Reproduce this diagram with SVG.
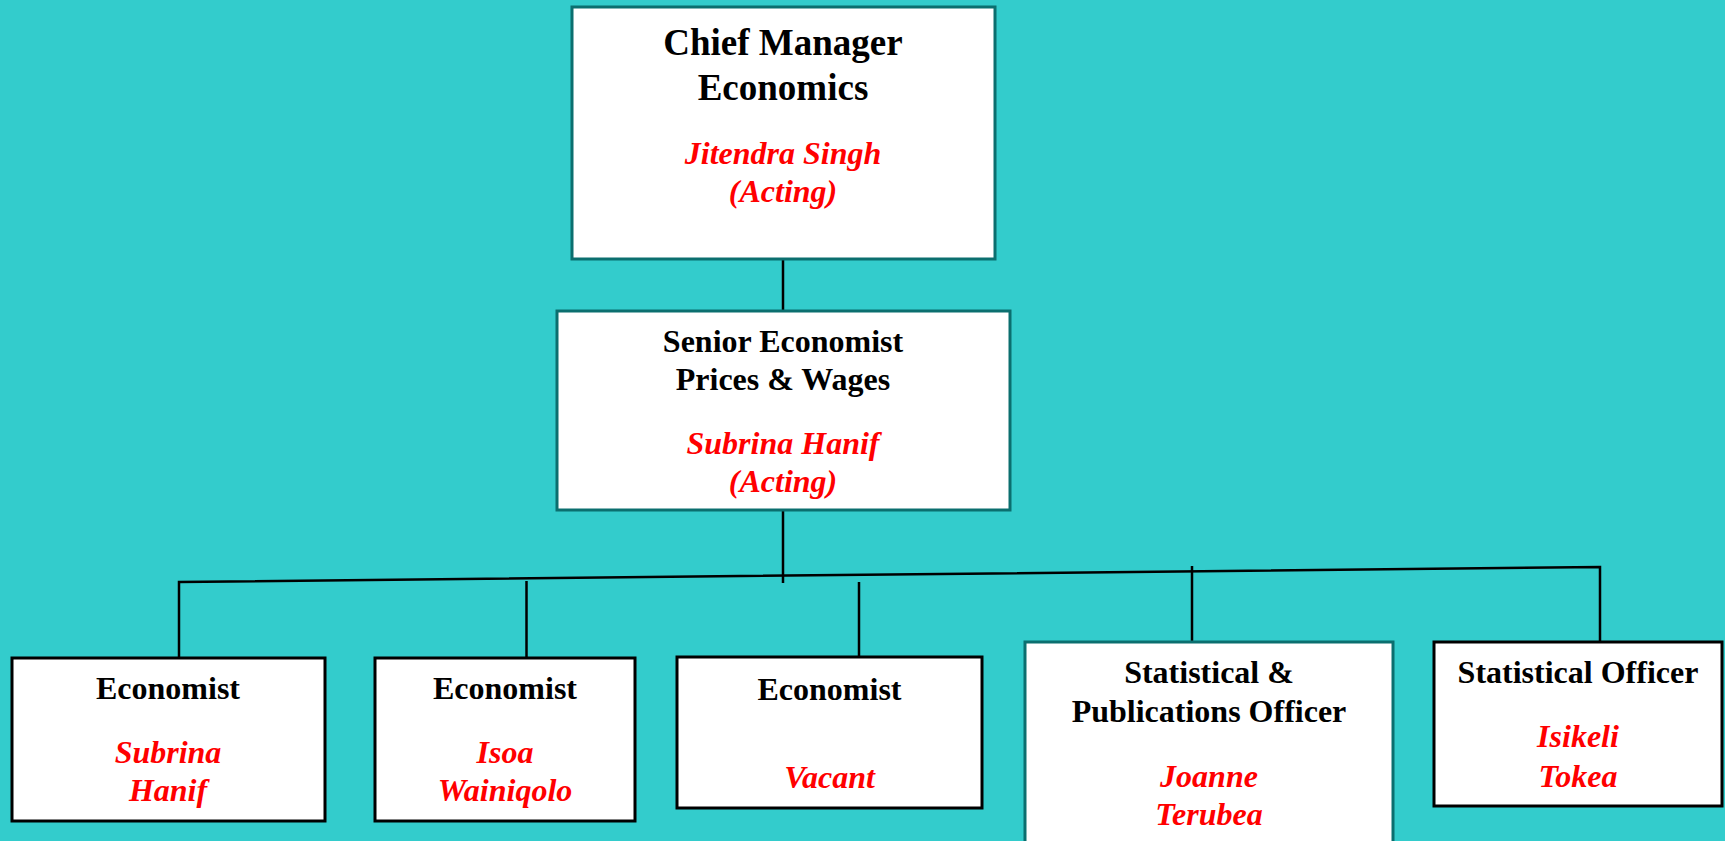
<svg xmlns="http://www.w3.org/2000/svg" width="1725" height="841" viewBox="0 0 1725 841">
<style>
.bg{fill:#33CCCC}
.box{fill:#ffffff;stroke:#0b6f6f;stroke-width:3}
.boxk{fill:#ffffff;stroke:#000000;stroke-width:3}
.conn{stroke:#000000;stroke-width:2.5;fill:none;stroke-linecap:butt}
.t{font-family:"Liberation Serif","Times New Roman",serif;font-weight:bold;fill:#000000;text-anchor:middle;font-size:32px}
.tl{font-size:37px}
.n{font-family:"Liberation Serif","Times New Roman",serif;font-weight:bold;font-style:italic;fill:#ff0000;text-anchor:middle;font-size:32px}
</style>
<rect class="bg" x="0" y="0" width="1725" height="841"/>
<g id="connectors">
<line class="conn" x1="783" y1="259" x2="783" y2="311"/>
<line class="conn" x1="783" y1="510" x2="783" y2="583"/>
<polyline class="conn" points="179,663 179,582 1600,567 1600,648"/>
<line class="conn" x1="526.5" y1="581" x2="526.5" y2="663"/>
<line class="conn" x1="859" y1="582" x2="859" y2="658"/>
<line class="conn" x1="1192" y1="566" x2="1192" y2="648"/>
</g>
<g id="chief-manager">
<rect class="box" x="572" y="7" width="423" height="252"/>
<text class="t tl" x="783" y="55">Chief Manager</text>
<text class="t tl" x="783" y="100">Economics</text>
<text class="n" x="783" y="164">Jitendra Singh</text>
<text class="n" x="783" y="202">(Acting)</text>
</g>
<g id="senior-economist">
<rect class="box" x="557" y="311" width="453" height="199"/>
<text class="t" x="783" y="352">Senior Economist</text>
<text class="t" x="783" y="390">Prices &amp; Wages</text>
<text class="n" x="783" y="454">Subrina Hanif</text>
<text class="n" x="783" y="492">(Acting)</text>
</g>
<g id="economist-1">
<rect class="boxk" x="12" y="658" width="313" height="163"/>
<text class="t" x="168" y="699">Economist</text>
<text class="n" x="168" y="763">Subrina</text>
<text class="n" x="168" y="801">Hanif</text>
</g>
<g id="economist-2">
<rect class="boxk" x="375" y="658" width="260" height="163"/>
<text class="t" x="505" y="699">Economist</text>
<text class="n" x="505" y="763">Isoa</text>
<text class="n" x="505" y="801">Wainiqolo</text>
</g>
<g id="economist-3">
<rect class="boxk" x="677" y="657" width="305" height="151"/>
<text class="t" x="829.5" y="700">Economist</text>
<text class="n" x="829.5" y="788">Vacant</text>
</g>
<g id="statistical-publications-officer">
<rect class="box" x="1025" y="642" width="368" height="220"/>
<text class="t" x="1209" y="683">Statistical &amp;</text>
<text class="t" x="1209" y="722">Publications Officer</text>
<text class="n" x="1209" y="787">Joanne</text>
<text class="n" x="1209" y="825">Terubea</text>
</g>
<g id="statistical-officer">
<rect class="boxk" x="1434" y="642" width="288" height="164"/>
<text class="t" x="1578" y="683">Statistical Officer</text>
<text class="n" x="1578" y="747">Isikeli</text>
<text class="n" x="1578" y="787">Tokea</text>
</g>
</svg>
